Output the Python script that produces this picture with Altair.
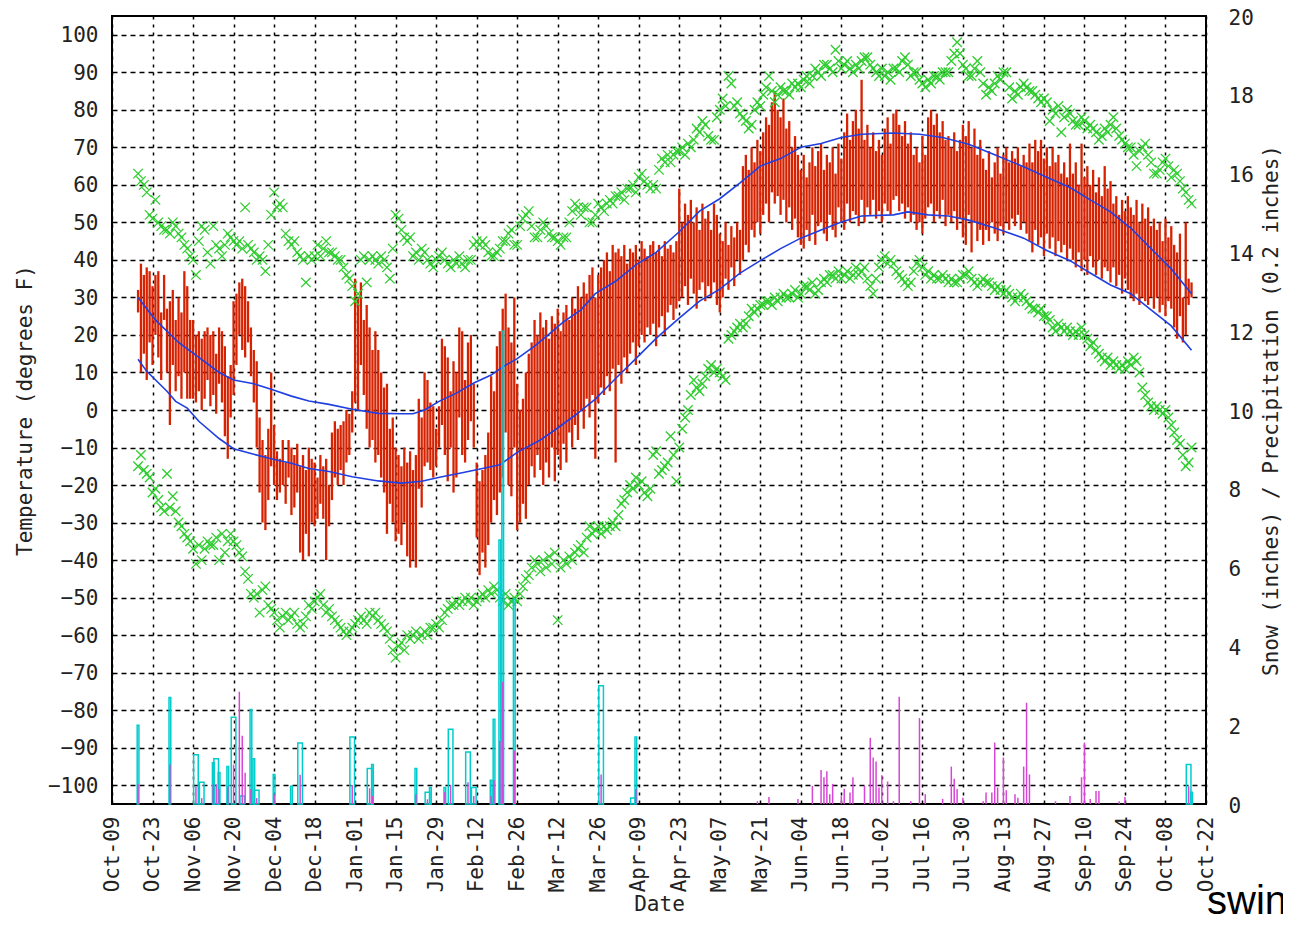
import altair as alt
import pandas as pd

# ---- calendar: day 0 = 2008-10-09 (first tick), last tick = 2009-10-22
AXIS_START = "2008-10-09"
FIRST_DAY = 9          # first observation (Oct 18)
LAST_AXIS_DAY = 378
tick_days = list(range(0, LAST_AXIS_DAY + 1, 14))
tick_format = "%b-%d"
temp_ticks = list(range(-100, 101, 10))
wet_ticks = list(range(0, 21, 2))

# ---- daily observed high / low (deg F), day FIRST_DAY onward
high = [32, 39, 36, 38, 37, 33, 36, 37, 26, 36,
        27, 29, 32, 24, 30, 26, 37, 33, 24, 24,
        20, 21, 19, 21, 22, 20, 21, 15, 22, 21,
        17, 9, 12, 29, 31, 34, 35, 33, 29, 22,
        16, 13, -2, -8, -12, -5, 10, -4, -11, -13,
        -8, -14, -8, -10, -12, -9, -15, -12, -16, -10,
        -13, -14, -18, -12, -15, -13, -20, -6, -3, -5,
        -4, -3, 0, -1, 5, 35, 30, 34, 24, 28,
        22, 16, 21, 16, 10, 6, 7, -5, -2, -10,
        -12, -15, -10, -14, -11, -16, -12, 3, -2, 10,
        8, 2, 1, -5, 1, 19, 17, 14, 5, 13,
        10, 22, 21, 8, 18, 20, 7, -14, -19, -16,
        -12, -6, 9, 5, 17, 21, 27, 31, 22, 18,
        30, 7, 0, 3, 10, 15, 18, 24, 20, 26,
        22, 24, 19, 25, 23, 27, 21, 26, 28, 24,
        30, 27, 33, 30, 34, 31, 36, 38, 30, 36,
        38, 40, 42, 37, 44, 42, 43, 41, 44, 39,
        43, 42, 44, 40, 45, 43, 41, 44, 45, 42,
        44, 41, 45, 43, 44, 42, 45, 59, 50, 55,
        52, 56, 50, 54, 48, 55, 51, 53, 48, 55,
        52, 47, 45, 50, 44, 49, 46, 50, 48, 65,
        68, 64, 70, 66, 72, 69, 74, 78, 76, 82,
        85, 80, 78, 83, 75, 77, 70, 73, 68, 64,
        68, 62, 66, 70, 65, 69, 71, 64, 68, 66,
        70, 63, 71, 67, 74, 79, 72, 77, 80, 75,
        88, 72, 76, 70, 74, 69, 72, 68, 75, 78,
        71, 79, 80, 76, 73, 77, 71, 74, 68, 70,
        66, 73, 68, 78, 80, 76, 79, 74, 77, 72,
        73, 70, 74, 69, 72, 76, 73, 77, 70, 75,
        68, 72, 67, 64, 69, 62, 66, 70, 63, 68,
        70, 66, 69, 67, 70, 65, 68, 66, 71, 66,
        72, 69, 72, 67, 70, 65, 70, 66, 68, 63,
        66, 62, 71, 63, 66, 60, 71, 62, 65, 60,
        64, 58, 62, 57, 65, 59, 61, 55, 57, 52,
        56, 53, 57, 54, 52, 56, 50, 55, 51, 54,
        49, 51, 48, 50, 45, 51, 46, 49, 44, 42,
        47, 30, 50, 35, 34]
low = [26, 10, 15, 8, 18, 12, 20, 14, 8, 24,
       10, -4, 12, 5, 9, 3, 10, 3, 3, 3,
       2, 5, 0, 3, 8, 1, 4, -1, 7, 2,
       -7, -13, -2, 4, 12, 20, 16, 14, 18, 9,
       2, -10, -22, -30, -32, -24, -15, -20, -24, -22,
       -20, -25, -18, -28, -26, -22, -38, -40, -33, -39,
       -30, -31, -29, -25, -29, -40, -31, -24, -18, -20,
       -16, -20, -14, -12, -6, 2, 0, 12, 4, -5,
       -10, -8, -14, -12, -18, -22, -33, -25, -30, -35,
       -33, -36, -30, -39, -42, -40, -42, -21, -26, -15,
       -14, -16, -18, -15, -10, -4, -12, -19, -10, -22,
       -18, -2, -12, -14, -8, -3, -10, -34, -44, -38,
       -42, -36, -30, -24, -28, -22, -18, -6, -20, -23,
       -10, -32, -30, -25, -29, -20, -15, -18, -12, -16,
       -20, -14, -18, -10, -19, -12, -16, -9, -14, -6,
       -10, -4, -8, 0, -5, 3, -2, 4, -13, 2,
       6, 4, 9, 5, 11, -14, 12, 7, 14, 10,
       15, 18, 12, 17, 20, 18, 22, 20, 23, 17,
       22, 25, 20, 26, 28, 24, 27, 29, 30, 33,
       28, 35, 31, 27, 32, 34, 29, 33, 30, 34,
       28, 26, 30, 35, 32, 38, 33, 40, 36, 40,
       44, 42, 48, 46, 50, 47, 52, 55, 50, 58,
       55, 57, 52, 56, 50, 54, 48, 51, 46, 44,
       43, 48, 45, 52, 44, 49, 50, 47, 45, 52,
       48, 46, 54, 50, 48, 55, 50, 53, 52, 49,
       56, 50, 54, 52, 56, 51, 53, 50, 55, 53,
       52, 56, 57, 53, 55, 51, 54, 50, 52, 48,
       50, 47, 51, 54, 55, 50, 53, 51, 56, 49,
       52, 50, 53, 48, 51, 46, 44, 52, 42, 50,
       45, 48, 44, 48, 45, 50, 47, 45, 49, 47,
       50, 48, 51, 49, 52, 48, 50, 47, 45, 42,
       48, 44, 46, 41, 47, 43, 46, 41, 45, 42,
       44, 40, 43, 40, 38, 42, 37, 40, 36, 41,
       38, 36, 40, 35, 38, 37, 34, 38, 33, 36,
       31, 35, 32, 30, 29, 31, 28, 30, 29, 28,
       30, 27, 30, 26, 28, 25, 29, 27, 22, 19,
       25, 18, 20, 28, 30]

# ---- record high / record low for each calendar day (deg F)
record_high = [63, 61, 60, 58, 52, 51, 56, 50, 49, 48,
               48, 47, 50, 49, 47, 46, 44, 43, 41, 40,
               36, 45, 49, 48, 42, 39, 49, 44, 43, 41,
               44, 47, 46, 45, 44, 45, 43, 54, 44, 43,
               42, 40, 41, 40, 37, 44, 52, 58, 54, 55,
               54, 47, 45, 44, 45, 42, 41, 40, 34, 41,
               40, 41, 44, 41, 43, 45, 42, 42, 41, 40,
               40, 38, 36, 35, 33, 29, 31, 40, 41, 34,
               40, 41, 40, 39, 41, 40, 38, 35, 43, 52,
               51, 48, 46, 45, 46, 41, 42, 40, 43, 42,
               40, 39, 38, 40, 41, 42, 40, 39, 38, 40,
               39, 41, 39, 38, 40, 40, 44, 45, 44, 45,
               44, 42, 41, 41, 42, 43, 45, 45, 47, 48,
               44, 44, 49, 51, 52, 53, 49, 46, 46, 48,
               50, 49, 47, 46, 46, 45, 44, 46, 46, 50,
               53, 55, 54, 52, 54, 54, 50, 50, 52, 55,
               54, 53, 55, 56, 55, 57, 57, 58, 56, 59,
               59, 60, 58, 62, 63, 61, 60, 59, 60, 59,
               64, 67, 66, 68, 66, 68, 69, 69, 70, 68,
               71, 70, 72, 75, 74, 77, 76, 73, 72, 72,
               78, 80, 83, 81, 89, 87, 81, 82, 79, 78,
               77, 75, 76, 80, 82, 81, 84, 86, 89, 85,
               82, 84, 86, 85, 85, 84, 87, 86, 87, 86,
               88, 89, 87, 89, 91, 90, 89, 92, 92, 91,
               90, 96, 93, 91, 92, 93, 91, 90, 92, 91,
               93, 94, 94, 92, 91, 90, 89, 91, 89, 90,
               88, 91, 91, 90, 93, 94, 92, 89, 90, 90,
               88, 87, 86, 88, 87, 89, 89, 88, 90, 90,
               90, 93, 95, 98, 95, 92, 91, 89, 89, 91,
               93, 90, 87, 84, 86, 85, 87, 89, 88, 90,
               90, 86, 83, 85, 84, 86, 87, 86, 85, 85,
               84, 83, 82, 83, 82, 77, 80, 79, 81, 74,
               78, 80, 79, 77, 76, 76, 78, 77, 75, 76,
               75, 74, 72, 73, 75, 74, 76, 78, 75, 73,
               72, 71, 70, 70, 68, 65, 69, 70, 71, 68,
               66, 63, 63, 64, 66, 67, 65, 62, 64, 63,
               61, 59, 58, 56, 55]
record_low = [-15, -12, -16, -17, -18, -22, -21, -24, -26, -27,
              -17, -26, -23, -27, -30, -31, -33, -34, -35, -37,
              -41, -36, -40, -37, -35, -36, -36, -34, -40, -33,
              -38, -35, -33, -35, -36, -38, -39, -43, -45, -49,
              -50, -49, -54, -48, -47, -52, -53, -54, -56, -58,
              -55, -54, -56, -55, -54, -57, -58, -57, -55, -52,
              -53, -51, -50, -49, -52, -54, -53, -55, -56, -57,
              -58, -59, -60, -59, -58, -57, -56, -55, -56, -57,
              -54, -55, -54, -56, -57, -58, -59, -61, -64, -66,
              -63, -62, -64, -60, -61, -60, -59, -61, -60, -59,
              -60, -58, -58, -57, -58, -56, -54, -53, -52, -52,
              -51, -52, -51, -50, -51, -50, -52, -51, -50, -49,
              -50, -48, -49, -47, -48, -50, -51, -49, -52, -51,
              -50, -51, -49, -47, -45, -44, -42, -40, -41, -43,
              -40, -42, -39, -41, -38, -56, -42, -40, -41, -39,
              -40, -38, -37, -36, -38, -34, -31, -33, -32, -31,
              -33, -31, -32, -31, -30, -31, -28, -25, -24, -22,
              -20, -21, -18, -20, -19, -22, -23, -21, -12, -11,
              -17, -16, -15, -14, -7, -12, -19, -10, -5, -2,
              0, 4, 8, 6, 5, 7, 9, 11, 12, 10,
              11, 10, 9, 8, 19, 20, 21, 22, 23, 22,
              23, 25, 27, 26, 27, 28, 28, 29, 29, 28,
              30, 29, 30, 31, 30, 30, 31, 32, 30, 31,
              33, 33, 32, 34, 31, 32, 34, 35, 34, 36,
              36, 35, 37, 35, 36, 37, 35, 36, 38, 36,
              37, 38, 35, 33, 31, 35, 38, 40, 41, 39,
              40, 39, 37, 36, 35, 34, 33, 34, 37, 39,
              40, 38, 36, 37, 35, 36, 35, 35, 36, 35,
              34, 35, 34, 34, 35, 36, 36, 37, 35, 34,
              33, 34, 35, 34, 34, 33, 32, 33, 32, 31,
              32, 31, 30, 29, 30, 31, 30, 29, 28, 27,
              27, 26, 27, 25, 25, 24, 22, 21, 23, 22,
              21, 22, 21, 20, 21, 20, 22, 20, 19, 17,
              18, 16, 15, 14, 13, 14, 12, 13, 12, 11,
              12, 11, 13, 12, 14, 13, 10, 6, 4, 2,
              1, 0, 1, 0, -1, 0, -2, -4, -6, -8,
              -9, -12, -15, -14, -10]

# ---- climatological normals (deg F), read at sample days
normal_high_day = [9, 15, 23, 30, 37, 42, 49, 55, 62, 68, 75, 83, 92, 100, 104, 108, 113, 119,
                   125, 131, 135, 140, 146, 151, 156, 162, 167, 174, 181, 188, 196, 203, 210,
                   217, 224, 231, 238, 245, 252, 259, 270, 279, 287, 296, 305, 315, 323, 331,
                   338, 345, 352, 359, 366, 373]
normal_high = [30, 24, 18, 14, 10, 8, 7, 5.5, 3.7, 2.4, 1.5, 0.2, -0.9, -1, -1, 0, 2.3, 4.5,
               7.2, 9.3, 11.5, 13.7, 17, 20.2, 23.5, 26.7, 31, 34.3, 38.7, 42, 47.5, 53, 56.3,
               60.5, 65, 67, 70, 71, 72.6, 73.5, 73.8, 73.5, 72.6, 70.8, 68, 64.8, 62, 59.3,
               56, 52.8, 48.5, 43, 37.6, 31]
normal_low_day = [9, 12, 19, 22, 26, 30, 37, 42, 49, 56, 62, 68, 75, 83, 92, 100, 107, 114,
                  121, 128, 134, 140, 148, 154, 160, 167, 174, 181, 188, 196, 203, 210, 217,
                  224, 231, 238, 245, 252, 259, 270, 275, 282, 289, 296, 305, 315, 323, 331,
                  338, 345, 352, 359, 366, 373]
normal_low = [13.5, 10.3, 5, 2.3, 0.5, -3, -7.6, -10.3, -11.8, -13.2, -14.2, -15.6, -16.4,
              -17.8, -18.9, -19.5, -19, -17.8, -16.7, -15.6, -14.6, -11.3, -8, -4.8, -1.4,
              2.9, 8.4, 13.7, 19.1, 24.5, 29, 32.2, 36.5, 39.8, 43, 45.8, 48, 50.1, 51.7,
              52, 52.8, 52, 51.7, 50.6, 48.5, 45.8, 42.5, 39.8, 36.5, 33.3, 31, 26.7, 22.4,
              15.9]

# ---- snowfall (inches); span = number of days the report covers
snow_day = [9, 20, 29, 31, 35, 36, 37, 40, 42, 45, 48, 49, 50, 56, 62, 65, 83, 89, 90, 105,
            109, 110, 115, 117, 123, 125, 131, 132, 134, 135, 139, 169, 180, 181, 372, 373]
snow_in = [2.0, 2.7, 1.25, 0.55, 1.05, 1.15, 0.8, 0.95, 2.2, 0.2, 2.4, 1.15, 0.35, 0.75,
           0.45, 1.55, 1.7, 0.9, 1.0, 0.9, 0.3, 0.42, 0.42, 1.9, 1.32, 0.42, 0.6, 2.15, 6.7,
           12.0, 5.2, 3.0, 0.15, 1.7, 1.0, 0.3]
snow_span = [1, 1, 2, 2, 1, 2, 1, 1, 2, 2, 1, 1, 2, 1, 1, 2, 2, 2, 1, 1,
             2, 1, 1, 2, 2, 2, 1, 1, 1, 1, 1, 2, 2, 1, 2, 1]

# ---- precipitation in units of 0.2 inches
precip_day = [9, 20, 29, 31, 35, 36, 37, 40, 42, 44, 45, 46, 48, 50, 56, 65, 83, 89, 90, 105,
              109, 115, 117, 123, 125, 131, 132, 134, 135, 139, 169, 181, 223, 227, 237, 242,
              245, 246, 247, 248, 249, 252, 253, 255, 256, 260, 262, 263, 264, 265, 266, 268,
              270, 272, 276, 279, 281, 287, 290, 291, 292, 294, 301, 302, 304, 305, 306, 308,
              309, 312, 313, 315, 316, 317, 326, 331, 335, 336, 338, 340, 341, 348, 350, 372]
precip_units = [0.5, 1.0, 0.45, 0.15, 0.5, 0.5, 0.38, 0.45, 1.0, 2.85, 1.73, 0.79, 0.38, 0.15,
                0.25, 0.74, 0.48, 0.4, 0.2, 0.25, 0.12, 0.3, 0.48, 0.55, 0.2, 0.2, 0.6, 1.6,
                3.1, 1.35, 0.75, 0.38, 0.07, 0.18, 0.13, 0.46, 0.86, 0.68, 0.83, 0.25, 0.51,
                0.2, 0.39, 0.29, 0.68, 0.46, 1.68, 1.18, 1.08, 0.42, 0.73, 0.57, 0.07, 2.72,
                0.07, 2.18, 0.25, 0.13, 0.95, 0.64, 0.38, 0.16, 0.07, 0.29, 0.29, 1.56, 0.42,
                1.18, 0.35, 0.25, 0.16, 0.95, 2.57, 0.75, 0.07, 0.2, 0.68, 1.56, 0.13, 0.33,
                0.33, 0.07, 0.18, 0.45]

watermark = "swin"

# ---------------------------------------------------------------- tables
BASE = pd.Timestamp(AXIS_START)


def ms(day):
    """UTC epoch milliseconds of a (possibly fractional) day offset from AXIS_START."""
    return int((BASE + pd.Timedelta(days=day)).value // 1_000_000)


days = list(range(FIRST_DAY, FIRST_DAY + len(high)))
daily = pd.DataFrame({"t": [ms(d) for d in days], "high": high, "low": low})
records = pd.concat([
    pd.DataFrame({"t": [ms(d) for d in days], "temp": record_high, "kind": "record high"}),
    pd.DataFrame({"t": [ms(d) for d in days], "temp": record_low, "kind": "record low"}),
])
normals = pd.concat([
    pd.DataFrame({"t": [ms(d) for d in normal_high_day], "temp": normal_high, "kind": "normal high"}),
    pd.DataFrame({"t": [ms(d) for d in normal_low_day], "temp": normal_low, "kind": "normal low"}),
])
snow = pd.DataFrame({
    "t": [ms(d - s / 2 + 0.2) for d, s in zip(snow_day, snow_span)],
    "t2": [ms(d + s / 2 - 0.2) for d, s in zip(snow_day, snow_span)],
    "snow": snow_in,
})
precip = pd.DataFrame({"t": [ms(d) for d in precip_day], "precip": precip_units})

# ---------------------------------------------------------------- styling
FONT = "DejaVu Sans Mono"
FS = 21
TXT = "#222222"
RED, BLUE, GREEN, CYAN, MAGENTA = "#d62200", "#1f3fe0", "#2ecc2e", "#00cccc", "#d846d8"
XSHAPE = "M-1,-1L1,1M-1,1L1,-1"

x_scale = alt.Scale(type="utc", domain=[ms(0), ms(LAST_AXIS_DAY)], nice=False)
x_axis = alt.Axis(
    values=[ms(d) for d in tick_days],
    labelExpr=f"utcFormat(datum.value, '{tick_format}')",
    labelAngle=270, labelAlign="right", labelBaseline="middle", labelPadding=12,
    labelFlush=False, labelOverlap=False,
    ticks=False, domain=False, grid=True, gridColor="black", gridDash=[3, 5], gridWidth=1.5,
    labelFont=FONT, labelFontSize=FS, labelColor=TXT,
    title="Date", titleFont=FONT, titleFontSize=FS, titleFontWeight="normal", titleColor=TXT,
    titlePadding=2,
)
# the x scale is shared by every layer, so every layer carries the same axis definition
X = alt.X("t:T", scale=x_scale, axis=x_axis)

t_scale = alt.Scale(domain=[-105, 105], nice=False, zero=False)
t_axis = alt.Axis(
    values=temp_ticks, orient="left",
    ticks=False, domain=False, grid=True, gridColor="black", gridDash=[5, 4], gridWidth=1.5,
    labelFont=FONT, labelFontSize=FS, labelColor=TXT, labelPadding=14, labelOffset=1,
    title="Temperature (degrees F)", titleFont=FONT, titleFontSize=FS,
    titleFontWeight="normal", titleColor=TXT, titlePadding=12,
)
w_scale = alt.Scale(domain=[0, 20], nice=False, zero=False)
w_axis = alt.Axis(
    values=wet_ticks, orient="right", ticks=False, domain=False, grid=False,
    labelFont=FONT, labelFontSize=FS, labelColor=TXT, labelPadding=22, labelOffset=2,
    title="Snow (inches) / Precipitation (0.2 inches)", titleFont=FONT, titleFontSize=FS,
    titleFontWeight="normal", titleColor=TXT, titleAngle=270, titlePadding=28,
)

bars = alt.Chart(daily).mark_rule(color=RED, strokeWidth=2.3).encode(
    x=X,
    y=alt.Y("low:Q", scale=t_scale, axis=t_axis),
    y2="high:Q",
)
norm_lines = alt.Chart(normals).mark_line(color=BLUE, strokeWidth=1.6).encode(
    x=X,
    y=alt.Y("temp:Q", scale=t_scale, axis=None),
    detail="kind:N",
)
rec_pts = alt.Chart(records).mark_point(
    shape=XSHAPE, filled=False, color=GREEN, size=90, strokeWidth=1.3, opacity=1
).encode(
    x=X,
    y=alt.Y("temp:Q", scale=t_scale, axis=None),
)
snow_boxes = alt.Chart(snow).transform_calculate(base="0").mark_rect(
    fill="transparent", stroke=CYAN, strokeWidth=1.5
).encode(
    x=X,
    x2="t2:T",
    y=alt.Y("snow:Q", scale=w_scale, axis=w_axis),
    y2="base:Q",
)
precip_rules = alt.Chart(precip).transform_calculate(base="0").mark_rule(
    color=MAGENTA, strokeWidth=1.5
).encode(
    x=X,
    y=alt.Y("precip:Q", scale=w_scale, axis=None),
    y2="base:Q",
)
mark_txt = alt.Chart(pd.DataFrame({"w": [watermark]})).mark_text(
    font="Liberation Sans", fontSize=40, align="left", baseline="alphabetic", color="black"
).encode(text="w:N", x=alt.value(1095), y=alt.value(898))

chart = alt.layer(
    bars, norm_lines, rec_pts, snow_boxes, precip_rules, mark_txt
).resolve_scale(y="independent").properties(
    width=1094, height=788,
    autosize=alt.AutoSizeParams(type="none"),
    padding={"left": 104, "top": 8, "right": 77, "bottom": 111},
    background="white",
).configure_view(stroke="black", strokeWidth=2)

chart.save("out.html", embed_options={"renderer": "svg", "actions": False})
